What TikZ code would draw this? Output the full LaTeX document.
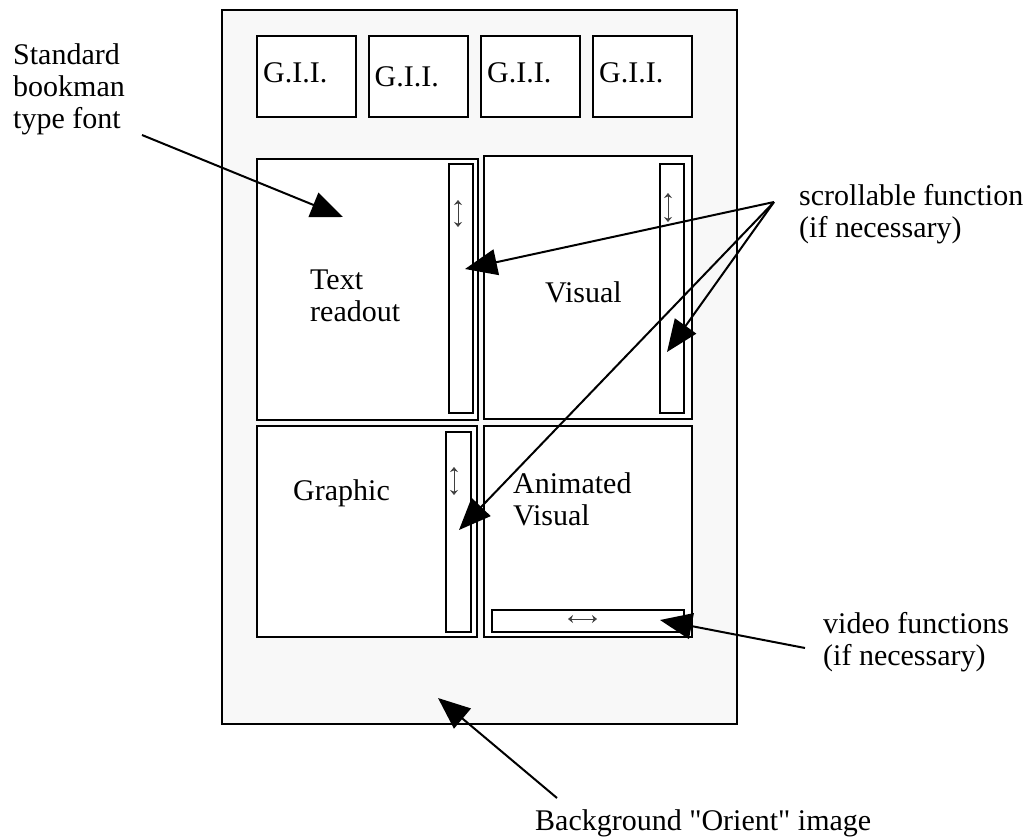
\documentclass[tikz,border=0pt]{standalone}
\usepackage{fontspec}
\setmainfont{Liberation Serif}[Ligatures=TeXOff]
\usetikzlibrary{positioning,calc,arrows.meta}
\definecolor{paper}{HTML}{F8F8F8}
\newcommand{\lblfont}{\fontsize{30}{32}\selectfont}

\begin{document}
\begin{tikzpicture}[x=1pt,y=-1pt,
  box/.style={draw,line width=2pt,fill=white,inner sep=0,outer sep=0},
  lbl/.style={font=\lblfont,align=left,anchor=base west,inner sep=0},
  callout/.style={line width=2pt,-{Triangle[length=32pt,width=26pt]}},
  updown/.style={line width=1pt,draw=black!75,
    {Stealth[length=5pt,width=8pt]}-{Stealth[length=5pt,width=8pt]}}]
  \useasboundingbox (0,0) rectangle (1034,836);

  % screen
  \node[box,fill=paper,minimum width=515,minimum height=714] (screen) at (479.5,367) {};

  \foreach \n/\x/\dy in {1/306.5/46,2/418/50,3/530.5/46,4/642.5/46} {
    \node[box,minimum width=99,minimum height=81] (gii\n) at (\x,76.5) {};
    \node[lbl] (gii\n txt) at ($(gii\n.north west)+(6,\dy)$) {G.I.I.};
  }

  % panels
  \node[box,minimum width=221,minimum height=261] (txt) at (367.5,289.5) {};
  \node[box,minimum width=208,minimum height=263] (vis) at (588,287.5) {};
  \node[box,minimum width=220,minimum height=211] (gra) at (367,531.5) {};
  \node[box,minimum width=208,minimum height=211] (ani) at (588,531.5) {};

  \node[box,minimum width=24,minimum height=249] (txtbar) at (461,288.5) {};
  \node[box,minimum width=24,minimum height=249] (visbar) at (672,288.5) {};
  \node[box,minimum width=25,minimum height=200] (grabar) at (458.5,532) {};
  \node[box,minimum width=192,minimum height=22] (anibar) at (588,621) {};

  \foreach \x/\ya/\yb in {458/200/227,668/193/222,454/467/495}
    \draw[updown] (\x,\ya) -- (\x,\yb);
  \draw[updown] (568,619) -- (597,619);

  % last baseline of each text
  \node[lbl] (txtlbl) at (310,321) {Text\\readout};
  \node[lbl] (vislbl) at (545,302) {Visual};
  \node[lbl] (gralbl) at (293,500) {Graphic};
  \node[lbl] (anilbl) at (513,525) {Animated\\Visual};

  % callouts
  \node[lbl] (font) at (13,128) {Standard\\bookman\\type font};
  \node[lbl] (scroll) at (799,237) {scrollable function\\(if necessary)};
  \node[lbl] (video) at (823,665) {video functions\\(if necessary)};
  \node[lbl] (back) at (535,830) {Background "Orient" image};

  \path
  (142,135) coordinate (fontend)
  (343,217) coordinate (fonttip)
  (774,202) coordinate (scrollend)
  (465,269) coordinate (txttip)
  (667,352) coordinate (vistip)
  (459,530) coordinate (gratip)
  (805,648) coordinate (videoend)
  (660,620) coordinate (anitip)
  (557,798) coordinate (backend)
  (438,698) coordinate (backtip);

  \draw[callout] (fontend) -- (fonttip);
  \foreach \t in {txttip,vistip,gratip}
    \draw[callout] (scrollend) -- (\t);
  \draw[callout] (videoend) -- (anitip);
  \draw[callout] (backend) -- (backtip);
\end{tikzpicture}
\end{document}
